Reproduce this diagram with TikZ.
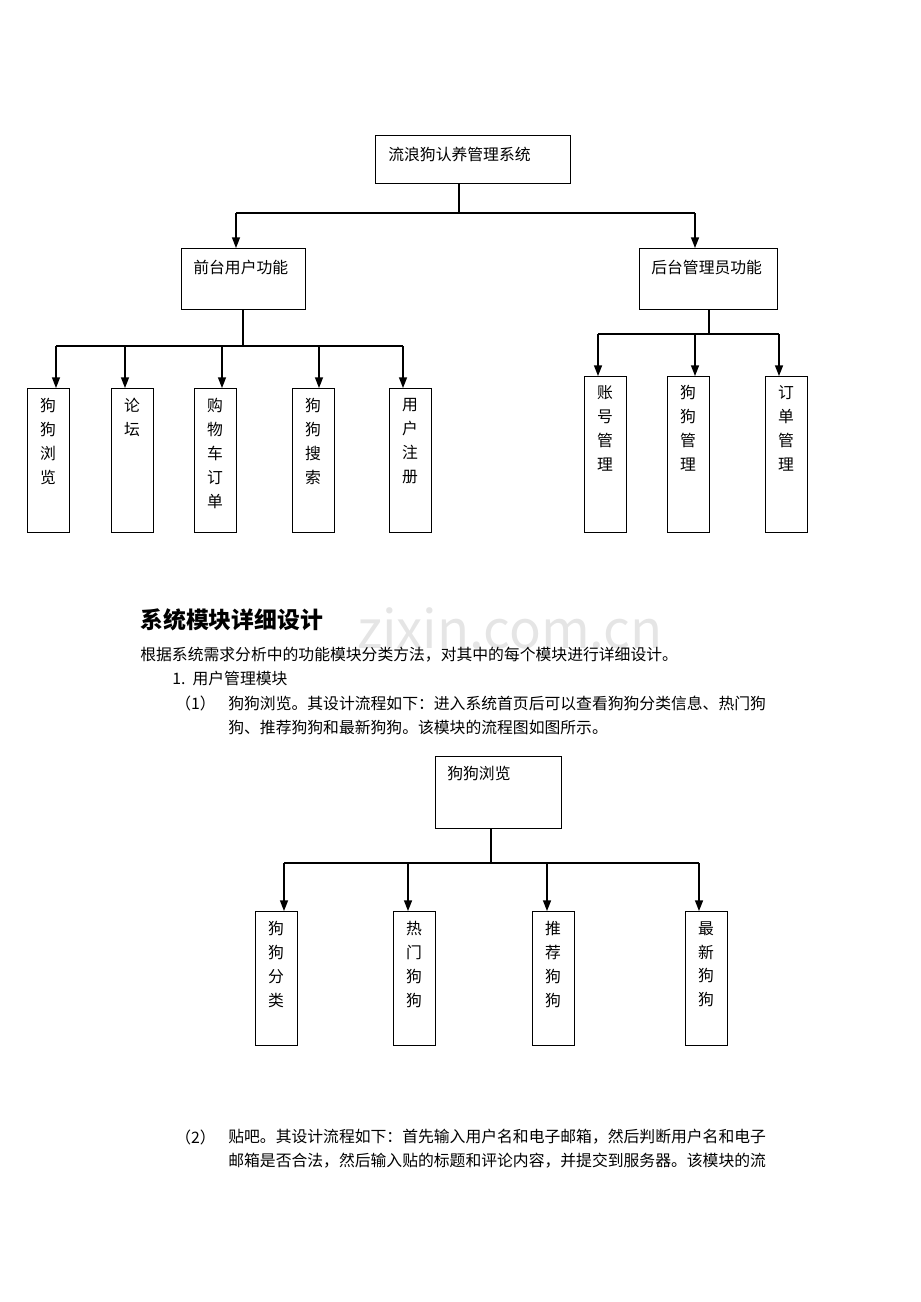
\documentclass[tikz,border=0pt]{standalone}
\usepackage{fontspec}
\setmainfont{Noto Sans CJK SC}
\usetikzlibrary{arrows.meta}
\tikzset{
  box/.style={draw,anchor=north west,inner sep=0pt},
  lab/.style={anchor=north west,inner sep=0pt,font=\fontsize{9}{11}\selectfont},
  col/.style={anchor=north,inner sep=0pt,align=center,font=\fontsize{9}{13.6}\selectfont},
  txt/.style={anchor=west,inner sep=0pt,font=\fontsize{9}{11}\selectfont},
  arr/.style={-{Triangle[length=6pt,width=4.5pt]},thick},
}
\newcommand{\mkbox}[5]{% name, x1, y1, x2, y2
  \node[box,minimum width={(#4-#2)*0.02cm},minimum height={(#5-#3)*0.02cm}] (#1) at (#2,#3) {};}
\begin{document}
\begin{tikzpicture}[x=0.02cm,y=-0.02cm]
  \useasboundingbox (0,0) rectangle (920,1302);

  % first chart
  \mkbox{sys}{375}{135}{570}{183}
  \node[lab] at (388,147) {流浪狗认养管理系统};
  \mkbox{front}{181}{248}{305}{309}
  \node[lab] at (193,260) {前台用户功能};
  \mkbox{back}{639}{248}{777}{309}
  \node[lab] at (651,260) {后台管理员功能};
  \draw[thick] (sys.south -| 459,0) -- (459,213);
  \draw[thick] (236,213) -- (695,213);
  \draw[arr] (236,213) -- (front.north -| 236,0);
  \draw[arr] (695,213) -- (back.north -| 695,0);

  \draw[thick] (front.south -| 243,0) -- (243,346);
  \draw[thick] (56,346) -- (403,346);
  \foreach \n/\xa/\xb/\t in {f1/27/56/狗\\狗\\浏\\览, f2/111/125/论\\坛,
      f3/194/222/购\\物\\车\\订\\单, f4/292/319/狗\\狗\\搜\\索, f5/389/403/用\\户\\注\\册} {
    \mkbox{\n}{\xa}{388}{\xa+42}{532}
    \node[col] at (\xa+21,398) {\t};
    \draw[arr] (\xb,346) -- (\n.north -| \xb,0);
  }

  \draw[thick] (back.south -| 709,0) -- (709,334);
  \draw[thick] (598,334) -- (779,334);
  \foreach \n/\xa/\xb/\t in {b1/584/598/账\\号\\管\\理, b2/667/695/狗\\狗\\管\\理,
      b3/765/779/订\\单\\管\\理} {
    \mkbox{\n}{\xa}{376}{\xa+42}{532}
    \node[col] at (\xa+21,385) {\t};
    \draw[arr] (\xb,334) -- (\n.north -| \xb,0);
  }

  % watermark
  \node[text=black!10,font=\fontsize{30}{30}\selectfont] at (510,628) {zixin.com.cn};

  % text
  \node[txt,font=\fontsize{13}{15}\selectfont\bfseries] at (140,620) {系统模块详细设计};
  \node[txt] at (140,655) {根据系统需求分析中的功能模块分类方法，对其中的每个模块进行详细设计。};
  \node[txt] at (172,678) {1.\ \ 用户管理模块};
  \node[txt] at (175,703) {（1）};
  \node[txt] at (228,703) {狗狗浏览。其设计流程如下：进入系统首页后可以查看狗狗分类信息、热门狗};
  \node[txt] at (228,727) {狗、推荐狗狗和最新狗狗。该模块的流程图如图所示。};

  % second chart
  \mkbox{browse}{435}{756}{561}{828}
  \node[lab] at (447,766) {狗狗浏览};
  \draw[thick] (browse.south -| 491,0) -- (491,863);
  \draw[thick] (284,863) -- (699,863);
  \foreach \n/\xa/\xb/\t in {c1/255/284/狗\\狗\\分\\类, c2/393/408/热\\门\\狗\\狗,
      c3/532/547/推\\荐\\狗\\狗, c4/685/699/最\\新\\狗\\狗} {
    \mkbox{\n}{\xa}{911}{\xa+42}{1045}
    \node[col] at (\xa+21,921) {\t};
    \draw[arr] (\xb,863) -- (\n.north -| \xb,0);
  }

  \node[txt] at (175,1137) {（2）};
  \node[txt] at (228,1137) {贴吧。其设计流程如下：首先输入用户名和电子邮箱，然后判断用户名和电子};
  \node[txt] at (228,1161) {邮箱是否合法，然后输入贴的标题和评论内容，并提交到服务器。该模块的流};
\end{tikzpicture}
\end{document}
